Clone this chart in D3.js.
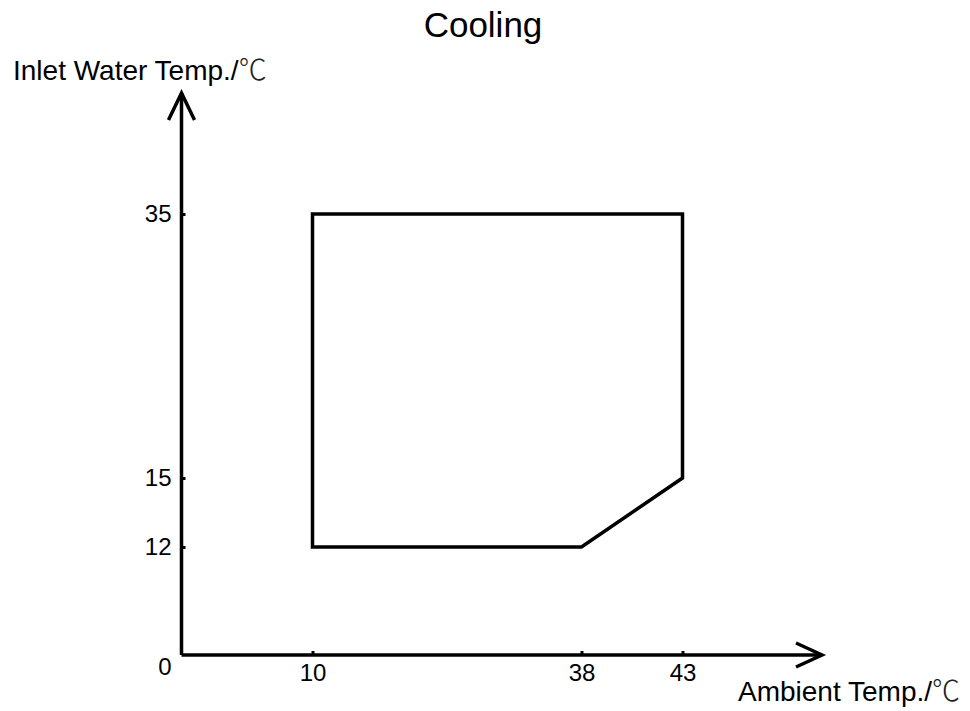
<!DOCTYPE html>
<html>
<head>
<meta charset="utf-8">
<script src="https://cdn.jsdelivr.net/npm/d3@7"></script>
<style>
html,body{margin:0;padding:0;background:#fff;}
svg{display:block;}
text{font-family:"Liberation Sans",Arial,sans-serif;fill:#000;}
</style>
</head>
<body>
<svg id="chart" width="970" height="711"></svg>
<script>
const title = "Cooling";
const xLabel = "Ambient Temp./";
const yLabel = "Inlet Water Temp./";
const unit = "℃";
const xTicks = [10, 38, 43];
const yTicks = [12, 15, 35];
const originLabel = "0";
// operating envelope (ambient temp, inlet water temp)
const envAmbient = [10, 10, 43, 43, 38];
const envWater = [12, 35, 35, 15, 12];
const xAxisEnd = 55;
const yAxisEnd = 45;

const svg = d3.select("#chart");
// schematic (non-proportional) axes: piecewise linear scales
const x = d3.scaleLinear().domain([0, 10, 38, 43, xAxisEnd]).range([181.5, 312.5, 581.5, 682.5, 822]);
const y = d3.scaleLinear().domain([0, 12, 15, 35, yAxisEnd]).range([655, 547, 478, 214, 93]);

const tickFont = "'Liberation Sans Narrow', 'Arial Narrow', 'Liberation Sans', sans-serif";

// envelope polygon
const pts = envAmbient.map((a, i) => [x(a), y(envWater[i])]);
svg.append("path")
  .attr("d", d3.line()(pts) + "Z")
  .attr("fill", "none").attr("stroke", "#000").attr("stroke-width", 3.5)
  .attr("stroke-linejoin", "miter");

// axes
const xAxis = d3.axisBottom(x).tickValues(xTicks).tickSize(-4).tickPadding(9).tickFormat(d3.format("d"));
const yAxis = d3.axisLeft(y).tickValues(yTicks).tickSize(-4).tickPadding(10).tickFormat(d3.format("d"));

const gx = svg.append("g").attr("transform", `translate(0,${y(0)})`).call(xAxis);
const gy = svg.append("g").attr("transform", `translate(${x(0)},0)`).call(yAxis);
[gx, gy].forEach(g => {
  g.attr("font-size", null).attr("font-family", null);
  g.select(".domain").remove();
  g.selectAll(".tick line").attr("stroke", "#000").attr("stroke-width", 3);
  g.selectAll(".tick text").attr("fill", "#000")
    .style("font-size", "24px")
    .style("font-family", tickFont);
});

// axis lines with open arrowheads
const ax = svg.append("g").attr("fill", "none").attr("stroke", "#000").attr("stroke-width", 3.5)
  .attr("stroke-linecap", "butt").attr("stroke-linejoin", "miter");
ax.append("path").attr("d", d3.line()([[x(0), y(0)], [x(xAxisEnd), y(0)]]));
ax.append("path").attr("d", d3.line()([[x(0), y(0)], [x(0), y(yAxisEnd)]]));
ax.append("path").attr("d", d3.line()([[x(xAxisEnd) - 26, y(0) - 12], [x(xAxisEnd), y(0)], [x(xAxisEnd) - 26, y(0) + 12]]));
ax.append("path").attr("d", d3.line()([[x(0) - 13, y(yAxisEnd) + 27], [x(0), y(yAxisEnd)], [x(0) + 13, y(yAxisEnd) + 27]]));

// origin label
svg.append("text").attr("x", x(0) - 10).attr("y", y(0) + 20)
  .attr("text-anchor", "end").style("font-size", "24px").style("font-family", tickFont).text(originLabel);

// title
svg.append("text").attr("x", 483).attr("y", 37).attr("text-anchor", "middle")
  .style("font-size", "35px").text(title);

// axis labels
const yl = svg.append("text").attr("x", 13).attr("y", 80).style("font-size", "28px");
yl.append("tspan").text(yLabel);
yl.append("tspan").attr("font-family", "'Noto Sans CJK SC'").attr("font-weight", 300).attr("fill", "#222").text(unit);

const xl = svg.append("text").attr("x", 738).attr("y", 701).style("font-size", "28px");
xl.append("tspan").text(xLabel);
xl.append("tspan").attr("font-family", "'Noto Sans CJK SC'").attr("font-weight", 300).attr("fill", "#222").text(unit);
</script>
</body>
</html>
